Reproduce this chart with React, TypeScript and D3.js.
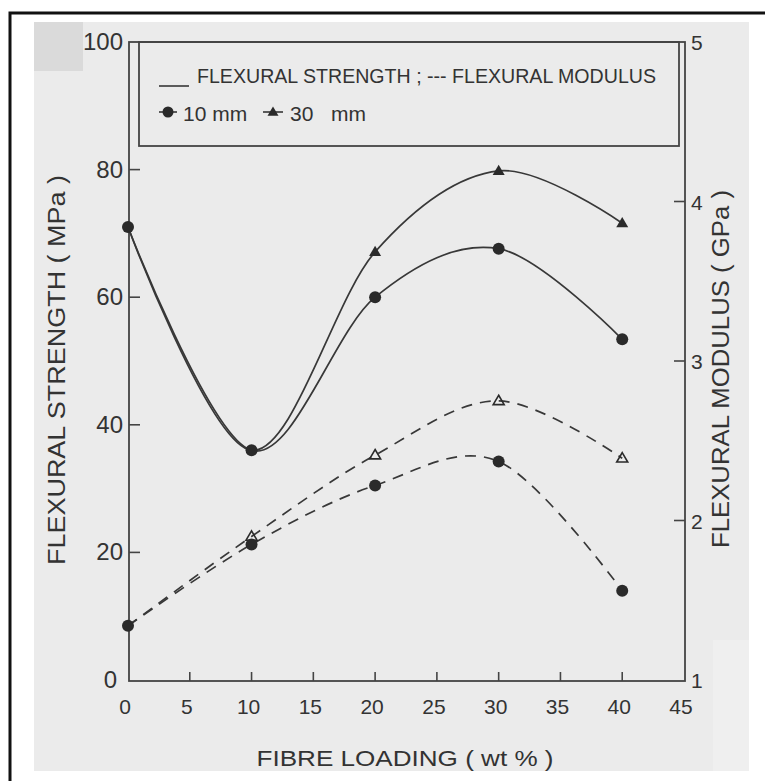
import React from "react";
import * as d3 from "d3";

// Fibre loading (wt %) at which the specimens were tested
const fibreLoading = [0, 10, 20, 30, 40];

// Flexural strength (MPa), left axis
const strength10mm = [71, 36, 60, 67.6, 53.4];
const strength30mm = [71, 36, 67.1, 79.8, 71.6];

// Flexural modulus (GPa), right axis
const modulus10mm = [1.34, 1.85, 2.22, 2.37, 1.56];
const modulus30mm = [1.34, 1.9, 2.41, 2.75, 2.39];

// Axis ticks
const xTicks = [0, 5, 10, 15, 20, 25, 30, 35, 40, 45];
const leftTicks = [0, 20, 40, 60, 80, 100];
const rightTicks = [1, 2, 3, 4, 5];

const W = 765;
const H = 781;
const FONT = "'Liberation Sans', Arial, Helvetica, sans-serif";
const INK = "#333";
const LINE = "#383838";

const plot = { left: 129, right: 685, top: 42, bottom: 681 };

const x = d3.scaleLinear().domain([0, 45]).range([128, 684]);
const yL = d3.scaleLinear().domain([0, 100]).range([680, 42]);
const yR = d3.scaleLinear().domain([1, 5]).range([680, 42]);

const curve = d3.curveCatmullRom.alpha(0);

function linePath(values: number[], y: d3.ScaleLinear<number, number>) {
  const gen = d3
    .line<number>()
    .x((_, i) => x(fibreLoading[i]))
    .y((v) => y(v))
    .curve(curve);
  return gen(values) || "";
}

function Circle({ cx, cy, r = 6 }: { cx: number; cy: number; r?: number }) {
  return <circle cx={cx} cy={cy} r={r} fill="#2a2a2a" />;
}

function Triangle({
  cx,
  cy,
  s = 12,
  open = false,
}: {
  cx: number;
  cy: number;
  s?: number;
  open?: boolean;
}) {
  const h = s * 0.85;
  const d = `M${cx},${cy - h * 0.6} L${cx + s / 2},${cy + h * 0.4} L${cx - s / 2},${cy + h * 0.4} Z`;
  return open ? (
    <path d={d} fill="none" stroke="#2a2a2a" strokeWidth={1.6} />
  ) : (
    <path d={d} fill="#2a2a2a" />
  );
}

export default function App() {
  // triangles are only drawn where they do not sit on a 10 mm point
  const tri = (vals: number[], ref: number[]) =>
    vals.map((v, i) => ({ i, v })).filter((p) => p.v !== ref[p.i]);

  return (
    <svg
      width={W}
      height={H}
      viewBox={`0 0 ${W} ${H}`}
      style={{ position: "absolute", left: 0, top: 0, background: "#fff" }}
      fontFamily={FONT}
    >
      {/* scanned page */}
      <rect x={34} y={22} width={715} height={749} fill="#ebebeb" />
      <rect x={34} y={22} width={49} height={49} fill="#dadada" />
      <rect x={713} y={640} width={36} height={131} fill="#efefef" />
      {/* page border */}
      <path d={`M10,${H} L10,13 L${W},13`} fill="none" stroke="#111" strokeWidth={3} />

      {/* frame */}
      <rect
        x={plot.left}
        y={plot.top}
        width={plot.right - plot.left}
        height={plot.bottom - plot.top}
        fill="none"
        stroke="#444"
        strokeWidth={1.8}
      />

      {/* legend box */}
      <rect x={139} y={42} width={540} height={104} fill="none" stroke="#444" strokeWidth={1.8} />
      <line x1={159} x2={189} y1={86} y2={86} stroke={LINE} strokeWidth={1.6} />
      <text x={197} y={83} fontSize={20} fill={INK} textLength={459} lengthAdjust="spacingAndGlyphs">
        FLEXURAL STRENGTH ;  --- FLEXURAL MODULUS
      </text>
      <line x1={159} x2={177} y1={112} y2={112} stroke={LINE} strokeWidth={1.6} />
      <Circle cx={168} cy={112} r={5.5} />
      <text x={183} y={121} fontSize={21} fill={INK}>
        10 mm
      </text>
      <line x1={263} x2={283} y1={112} y2={112} stroke={LINE} strokeWidth={1.6} />
      <Triangle cx={273} cy={112} s={11} />
      <text y={121} fontSize={21} fill={INK}>
        <tspan x={290}>30</tspan>
        <tspan x={331}>mm</tspan>
      </text>

      {/* left ticks */}
      {leftTicks.map((t) => (
        <g key={`l${t}`}>
          {t > 0 && t < 100 && (
            <line x1={plot.left} x2={plot.left + 11} y1={yL(t)} y2={yL(t)} stroke="#444" strokeWidth={1.6} />
          )}
          <text
            x={t === 0 ? 117 : 123}
            y={yL(t) + 8}
            fontSize={24}
            fill={INK}
            textAnchor="end"
          >
            {t}
          </text>
        </g>
      ))}

      {/* right ticks */}
      {rightTicks.map((t) => (
        <g key={`r${t}`}>
          {t > 1 && t < 5 && (
            <line x1={plot.right - 11} x2={plot.right} y1={yR(t)} y2={yR(t)} stroke="#444" strokeWidth={1.6} />
          )}
          <text x={plot.right + 6} y={yR(t) + 8} fontSize={21} fill={INK}>
            {t}
          </text>
        </g>
      ))}

      {/* bottom ticks */}
      {xTicks.map((t) => (
        <g key={`x${t}`}>
          {t > 0 && t < 45 && (
            <line x1={x(t)} x2={x(t)} y1={plot.bottom} y2={plot.bottom - 9} stroke="#444" strokeWidth={1.6} />
          )}
          <text x={x(t) - 3} y={714} fontSize={21} fill={INK} textAnchor="middle">
            {t}
          </text>
        </g>
      ))}

      {/* axis titles */}
      <text
        transform="translate(65,370) rotate(-90)"
        fontSize={23}
        fill={INK}
        textAnchor="middle"
        textLength={390}
        lengthAdjust="spacingAndGlyphs"
      >
        FLEXURAL  STRENGTH ( MPa )
      </text>
      <text
        transform="translate(729,369) rotate(-90)"
        fontSize={23}
        fill={INK}
        textAnchor="middle"
        textLength={358}
        lengthAdjust="spacingAndGlyphs"
      >
        FLEXURAL  MODULUS  ( GPa )
      </text>
      <text
        x={405}
        y={766}
        fontSize={22}
        fill={INK}
        textAnchor="middle"
        textLength={297}
        lengthAdjust="spacingAndGlyphs"
      >
        FIBRE  LOADING ( wt % )
      </text>

      {/* strength curves */}
      <path d={linePath(strength10mm, yL)} fill="none" stroke={LINE} strokeWidth={1.7} />
      <path d={linePath(strength30mm, yL)} fill="none" stroke={LINE} strokeWidth={1.7} />
      {/* modulus curves */}
      <path d={linePath(modulus10mm, yR)} fill="none" stroke={LINE} strokeWidth={1.7} strokeDasharray="11,8" />
      <path d={linePath(modulus30mm, yR)} fill="none" stroke={LINE} strokeWidth={1.7} strokeDasharray="11,8" />

      {/* markers */}
      {strength10mm.map((v, i) => (
        <Circle key={`s10${i}`} cx={x(fibreLoading[i])} cy={yL(v)} />
      ))}
      {tri(strength30mm, strength10mm).map((p) => (
        <Triangle key={`s30${p.i}`} cx={x(fibreLoading[p.i])} cy={yL(p.v)} />
      ))}
      {modulus10mm.map((v, i) => (
        <Circle key={`m10${i}`} cx={x(fibreLoading[i])} cy={yR(v)} />
      ))}
      {tri(modulus30mm, modulus10mm).map((p) => (
        <Triangle key={`m30${p.i}`} cx={x(fibreLoading[p.i])} cy={yR(p.v)} s={11} open />
      ))}
    </svg>
  );
}
